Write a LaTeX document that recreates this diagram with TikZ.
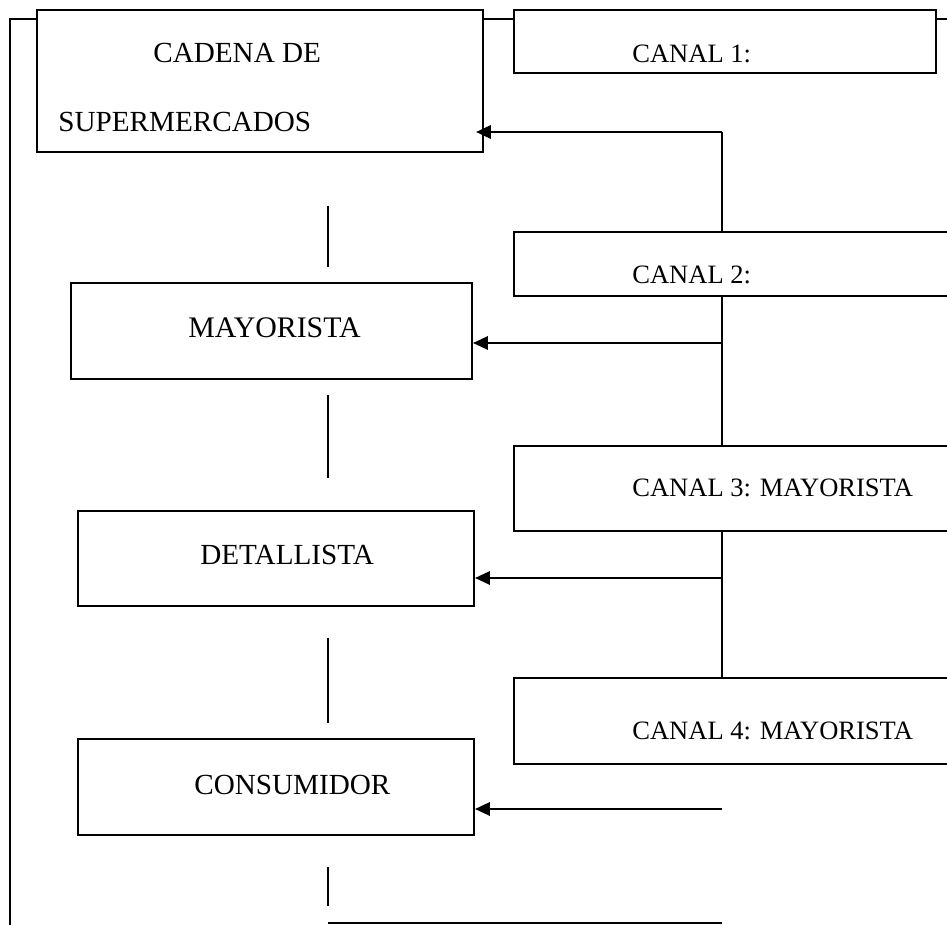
\documentclass[tikz,border=0pt]{standalone}
\usepackage{fontspec}
\setmainfont{Liberation Serif}
\usetikzlibrary{arrows.meta,fit}

\tikzset{
  caja/.style={draw, line width=1.1pt, fill=white, inner sep=0pt},
  txt/.style={anchor=base west, inner sep=0pt, font=\fontsize{16.6}{18}\selectfont},
  txtcanal/.style={anchor=base west, inner sep=0pt, font=\fontsize{15.1}{17}\selectfont},
  linea/.style={line width=0.9pt},
  flecha/.style={line width=1.5pt, -{Triangle[length=8.5pt,width=7.5pt]}}
}

\begin{document}
\begin{tikzpicture}[x=0.02cm,y=-0.02cm]
        \useasboundingbox (0,0) rectangle (947,925);
        \clip (0,0) rectangle (947,925);
        % marco exterior
        \draw[linea] (10,940) -- (10,19) -- (960,19);
        % cajas de la izquierda
        \node[caja, fit={(37,10) (483,152)}] (cadena) {};
        \node[caja, fit={(71,283) (472,379)}] (mayorista) {};
        \node[caja, fit={(78,511) (474,606)}] (detallista) {};
        \node[caja, fit={(78,739) (474,835)}] (consumidor) {};
        % cajas de los canales
        \node[caja, fit={(514,10) (936,73)}] (canal1) {};
        \node[caja, fit={(514,232) (970,296)}] (canal2) {};
        \node[caja, fit={(514,446) (970,531)}] (canal3) {};
        \node[caja, fit={(514,678) (970,764)}] (canal4) {};
        % textos
        \node[txt] (tcadena) at (153,63) {CADENA DE};
        \node[txt] (tsuper) at (58,132) {SUPERMERCADOS};
        \node[txt, font=\fontsize{17}{18}\selectfont] (tmayorista) at (188,338) {MAYORISTA};
        \node[txt] (tdetallista) at (200,565) {DETALLISTA};
        \node[txt] (tconsumidor) at (194,794) {CONSUMIDOR};
        \node[txtcanal] (tcanal1) at (632,63) {CANAL 1:};
        \node[txtcanal] (tcanal2) at (632,284) {CANAL 2:};
        \node[txtcanal] (tcanal3) at (632,497) {CANAL 3: MAYORISTA};
        \node[txtcanal] (tcanal4) at (632,739) {CANAL 4: MAYORISTA};
        % uniones
        \coordinate (u1) at (722,132);
        \coordinate (u2) at (722,343);
        \coordinate (u3) at (722,578);
        \coordinate (u4) at (722,809);
        \draw[linea] (u1 |- canal2.north) -- (u1);
        \draw[flecha] (u1) -- ([xshift=-0.16cm]u1 -| cadena.east);
        \draw[linea] (u2 |- canal2.south) -- (u2 |- canal3.north);
        \draw[flecha] (u2) -- (u2 -| mayorista.east);
        \draw[linea] (u3 |- canal3.south) -- (u3 |- canal4.north);
        \draw[flecha] (u3) -- (u3 -| detallista.east);
        \draw[flecha] (u4) -- (u4 -| consumidor.east);
        % trazos sueltos
        \foreach \a/\b in {206/267,395/478,638/723,867/906}
          \draw[linea] (328,\a) -- (328,\b);
        \draw[line width=1.1pt] (328,923) -- (722,923);
\end{tikzpicture}
\end{document}
